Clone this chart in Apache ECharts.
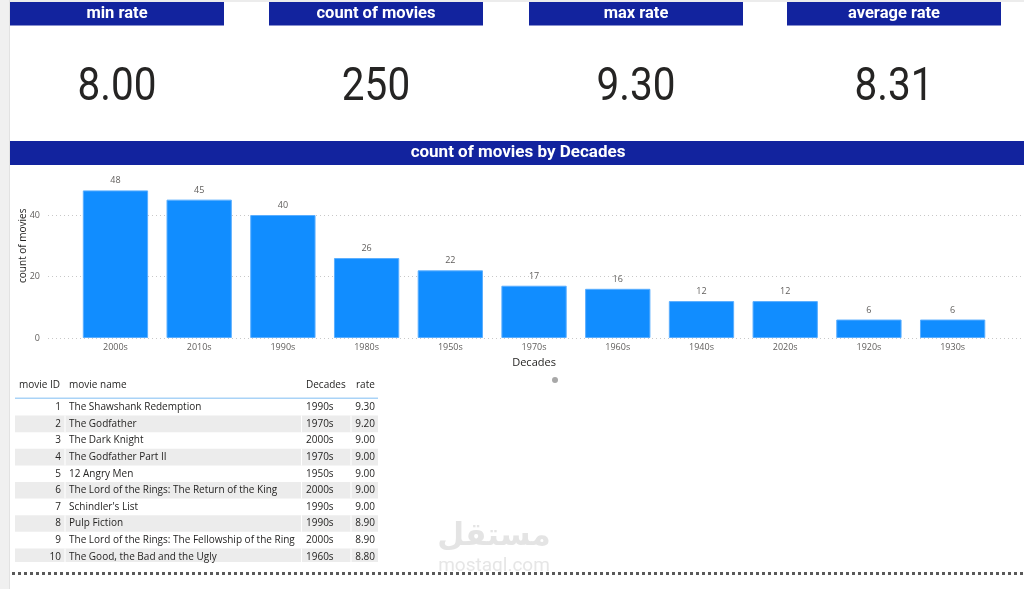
<!DOCTYPE html>
<html>
<head>
<meta charset="utf-8">
<title>movies dashboard</title>
<script src="https://cdn.jsdelivr.net/npm/echarts@6/dist/echarts.min.js"></script>
<style>
  html, body { margin: 0; padding: 0; background: #ffffff; }
  #main { width: 1024px; height: 589px; }
</style>
</head>
<body>
<div id="main"></div>
<script>
// kpi cards
var kpiNames = ['min rate', 'count of movies', 'max rate', 'average rate']
var kpiValues = ['8.00', '250', '9.30', '8.31']

// bar chart
var decades = ['2000s', '2010s', '1990s', '1980s', '1950s', '1970s', '1960s', '1940s', '2020s', '1920s', '1930s']
var movieCounts = [48, 45, 40, 26, 22, 17, 16, 12, 12, 6, 6]

// table
var tableHeaders = ['movie ID', 'movie name', 'Decades', 'rate']
var movieIds = [1, 2, 3, 4, 5, 6, 7, 8, 9, 10]
var movieNames = [
  'The Shawshank Redemption',
  'The Godfather',
  'The Dark Knight',
  'The Godfather Part II',
  '12 Angry Men',
  'The Lord of the Rings: The Return of the King',
  "Schindler's List",
  'Pulp Fiction',
  'The Lord of the Rings: The Fellowship of the Ring',
  'The Good, the Bad and the Ugly'
]
var movieDecades = ['1990s', '1970s', '2000s', '1970s', '1950s', '2000s', '1990s', '1990s', '2000s', '1960s']
var movieRates = [9.30, 9.20, 9.00, 9.00, 9.00, 9.00, 9.00, 8.90, 8.90, 8.80]

var navy = '#12239E'
var textDark = '#252423'
var headFont = 'Roboto, "DejaVu Sans", sans-serif'
var bodyFont = '"Open Sans", "Noto Sans", sans-serif'

var myChart = echarts.init(document.getElementById('main'), null, { renderer: 'canvas' })

var graphics = []

// page frame bits
graphics.push({ type: 'rect', shape: { x: 0, y: 0, width: 9, height: 589 }, style: { fill: '#f0f0f0' }, z: 1 })
graphics.push({ type: 'rect', shape: { x: 9, y: 0, width: 1, height: 589 }, style: { fill: '#e2e2e2' }, z: 1 })
graphics.push({ type: 'rect', shape: { x: 10, y: 0, width: 1014, height: 2 }, style: { fill: '#ececec' }, z: 1 })

// kpi cards
var kpiLeft = [10, 269, 529, 787]
kpiNames.forEach(function (name, i) {
  var cx = kpiLeft[i] + 107
  graphics.push({ type: 'rect', shape: { x: kpiLeft[i], y: 2, width: 214, height: 23.5 }, style: { fill: navy }, z: 2 })
  graphics.push({
    type: 'text', x: cx, y: 13.5, z: 3,
    style: { text: name, fill: '#ffffff', font: 'bold 16.5px ' + headFont, align: 'center', verticalAlign: 'middle' }
  })
  graphics.push({
    type: 'text', x: cx, y: 88, z: 3, scaleX: 0.88,
    style: { text: kpiValues[i], fill: textDark, font: '46px ' + headFont, align: 'center', verticalAlign: 'middle' }
  })
})

// chart title bar
graphics.push({ type: 'rect', shape: { x: 10, y: 141, width: 1014, height: 24 }, style: { fill: navy }, z: 5 })
graphics.push({
  type: 'text', x: 518, y: 152.5, z: 6,
  style: { text: 'count of movies by Decades', fill: '#ffffff', font: 'bold 17px ' + headFont, align: 'center', verticalAlign: 'middle' }
})
// little scroll dot under the chart
graphics.push({ type: 'circle', shape: { cx: 555, cy: 380, r: 3 }, style: { fill: '#a8a8a8' }, z: 3 })

// table
var colX = [61, 69, 306, 375]
var colAlign = ['right', 'left', 'left', 'right']
var headX = [19, 69, 306, 356]
var rowTop = 399
var rowH = 16.6
var tableBottom = 562
tableHeaders.forEach(function (h, j) {
  graphics.push({
    type: 'text', x: headX[j], y: 385, z: 3,
    style: { text: h, fill: textDark, font: '10px ' + bodyFont, align: 'left', verticalAlign: 'middle' }
  })
})
graphics.push({ type: 'rect', shape: { x: 15, y: 397.5, width: 363, height: 1.5 }, style: { fill: '#a9d3f7' }, z: 3 })
movieIds.forEach(function (id, i) {
  var top = rowTop + i * rowH
  var h = Math.min(rowH, tableBottom - top)
  if (i % 2 === 1) {
    graphics.push({ type: 'rect', shape: { x: 15, y: top, width: 363, height: h }, style: { fill: '#ececec' }, z: 2 })
    ;[64.5, 301, 350.5].forEach(function (sx) {
      graphics.push({ type: 'rect', shape: { x: sx, y: top, width: 1, height: h }, style: { fill: '#ffffff' }, z: 2 })
    })
  }
  var cells = [String(id), movieNames[i], movieDecades[i], movieRates[i].toFixed(2)]
  cells.forEach(function (c, j) {
    graphics.push({
      type: 'text', x: colX[j], y: top + rowH / 2, z: 3,
      style: { text: c, fill: textDark, font: '10px ' + bodyFont, align: colAlign[j], verticalAlign: 'middle' }
    })
  })
})

// watermark
graphics.push({
  type: 'text', x: 494, y: 537, z: 4,
  style: { text: 'مستقل', fill: '#e4e4e4', font: 'bold 31px "DejaVu Sans", sans-serif', align: 'center', verticalAlign: 'middle' }
})
graphics.push({
  type: 'text', x: 494, y: 566, z: 4,
  style: { text: 'mostaql.com', fill: '#e6e6e6', font: '19px ' + headFont, align: 'center', verticalAlign: 'middle' }
})

// dotted footer line
graphics.push({
  type: 'line', shape: { x1: 12, y1: 573.5, x2: 1024, y2: 573.5 }, z: 5,
  style: { stroke: '#595959', lineWidth: 3, lineDash: [3, 3] }
})

var option = {
  animation: false,
  backgroundColor: '#ffffff',
  grid: [{
    left: 73.6, right: 29.5, top: 153.5, height: 184.5
  }, {
    left: 48, right: 0, top: 153.5, height: 184.5
  }],
  xAxis: [{
    type: 'category',
    gridIndex: 0,
    data: decades,
    name: 'Decades',
    nameLocation: 'middle',
    nameGap: 19,
    nameTextStyle: { color: textDark, fontSize: 11, fontFamily: bodyFont },
    axisLine: { show: false },
    axisTick: { show: false },
    axisLabel: { color: '#605e5c', fontSize: 9, fontFamily: bodyFont, margin: 5 }
  }, {
    type: 'value',
    gridIndex: 1,
    show: false
  }],
  yAxis: [{
    type: 'value',
    gridIndex: 0,
    min: 0,
    max: 60,
    interval: 20,
    show: false
  }, {
    type: 'value',
    gridIndex: 1,
    min: 0,
    max: 60,
    interval: 20,
    name: 'count of movies',
    nameLocation: 'middle',
    nameRotate: 90,
    nameGap: 20,
    nameMoveOverlap: false,
    nameTextStyle: { color: textDark, fontSize: 10, fontFamily: bodyFont },
    axisLine: { show: false },
    axisTick: { show: false },
    axisLabel: { color: '#605e5c', fontSize: 9, fontFamily: bodyFont, margin: 8, showMaxLabel: false },
    splitLine: { show: true, showMaxLine: false, lineStyle: { color: '#c8c8c8', type: [1, 3], width: 1 } }
  }],
  series: [{
    type: 'bar',
    xAxisIndex: 0,
    yAxisIndex: 0,
    data: movieCounts,
    barCategoryGap: '22%',
    itemStyle: { color: '#118DFF', borderColor: '#5aaeff', borderWidth: 1 },
    label: {
      show: true,
      position: 'top',
      distance: 5,
      color: '#605e5c',
      fontSize: 9,
      fontFamily: bodyFont
    },
    z: 3
  }],
  graphic: graphics
}

myChart.setOption(option)
</script>
</body>
</html>
